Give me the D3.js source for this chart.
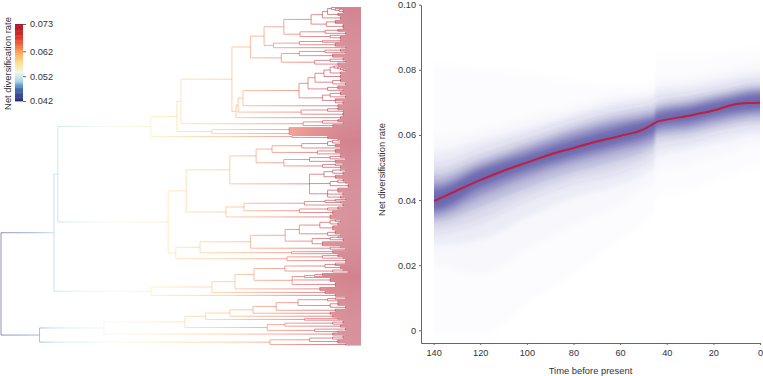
<!DOCTYPE html>
<html>
<head>
<meta charset="utf-8">
<script src="https://cdn.jsdelivr.net/npm/d3@7"></script>
<style>
  html, body { margin: 0; background: #fff; }
  svg { display: block; }
  text { font-family: "Liberation Sans", Arial, sans-serif; fill: #333; }
  .axis path, .axis line { stroke: #666; }
  .axis text { font-size: 9.2px; fill: #333; }
</style>
</head>
<body>
<svg width="763" height="376"></svg>
<script>
// tick labels
var rateTicks = [0, 0.02, 0.04, 0.06, 0.08, 0.10];
var timeTicks = [140, 120, 100, 80, 60, 40, 20, 0];
var legendTicks = [0.042, 0.052, 0.062, 0.073];

// colour ramp of the legend
var rampRates = [0.042, 0.047, 0.050, 0.0535, 0.057, 0.061, 0.064, 0.068, 0.073];
var rampColors = ["#2d2a7a", "#4575b4", "#abd9e9", "#f2f6e6", "#fee090", "#fdae61", "#f46d43", "#d73027", "#a50f26"];

// rate along the tree, by age
var treeAges = [140, 118, 100, 82, 70, 50, 30, 18, 8, 0];
var treeRates = [0.042, 0.050, 0.053, 0.056, 0.0585, 0.0615, 0.0655, 0.0695, 0.0725, 0.073];

// right panel, median curve
var curveAges = [139.8, 129.5, 120, 110, 100, 90, 80, 70, 60, 50, 47, 44, 40, 30, 20, 10, 5, 0];
var curveRates = [0.0397, 0.0431, 0.0461, 0.049, 0.0515, 0.054, 0.056, 0.058, 0.0597, 0.0617, 0.0629, 0.0641, 0.0647, 0.066, 0.0675, 0.0695, 0.0698, 0.0699];

// right panel, density bands (outermost first)
var bandAges = [139.8, 120, 100, 80, 60, 48, 45.5, 44.5, 30, 15, 0];
var bandUpper = [
  [0.082, 0.0805, 0.0793, 0.0765, 0.0755, 0.0755, 0.0757, 0.0845, 0.0845, 0.0855, 0.0865],
  [0.0594, 0.0615, 0.0655, 0.0692, 0.0725, 0.073, 0.0735, 0.077, 0.078, 0.08, 0.082],
  [0.055, 0.0585, 0.0624, 0.0667, 0.0707, 0.072, 0.0725, 0.0745, 0.0755, 0.0775, 0.0793],
  [0.051, 0.0554, 0.06, 0.0646, 0.0683, 0.0698, 0.0703, 0.0713, 0.0729, 0.075, 0.0769],
  [0.0477, 0.0526, 0.0575, 0.0624, 0.0661, 0.0677, 0.068, 0.0689, 0.071, 0.0732, 0.075],
  [0.0452, 0.0508, 0.0557, 0.0606, 0.0643, 0.0658, 0.0663, 0.0677, 0.0695, 0.072, 0.0738],
  [0.0431, 0.0492, 0.0538, 0.0584, 0.0624, 0.0646, 0.065, 0.0661, 0.0683, 0.0707, 0.0726]
];
var bandLower = [
  [-0.002, -0.002, 0.008, 0.0173, 0.028, 0.034, 0.036, 0.041, 0.043, 0.047, 0.05],
  [0.0197, 0.017, 0.0247, 0.0323, 0.0385, 0.044, 0.045, 0.0486, 0.0508, 0.0538, 0.0569],
  [0.026, 0.0277, 0.0345, 0.0406, 0.0446, 0.0486, 0.05, 0.0529, 0.0554, 0.0578, 0.06],
  [0.03, 0.0333, 0.04, 0.0452, 0.0486, 0.0523, 0.0535, 0.0563, 0.0581, 0.0609, 0.0624],
  [0.0333, 0.0379, 0.0437, 0.0486, 0.0523, 0.0554, 0.0565, 0.0591, 0.0606, 0.063, 0.0646],
  [0.0354, 0.0413, 0.0471, 0.0517, 0.0554, 0.0578, 0.0588, 0.0609, 0.0624, 0.0649, 0.0664],
  [0.0372, 0.044, 0.0495, 0.0538, 0.0575, 0.06, 0.0608, 0.0627, 0.0643, 0.0667, 0.068]
];
var bandAlpha = [0.01, 0.02, 0.05, 0.1, 0.2, 0.32, 0.45];

// phylogeny: [age of node, children...], a number means that many tips on the node
var cladeTop = [43,
  [37.7,
    [30,
      [19.4,
        [15, [13, [11.5, 1, [10, 1, [8.5, 1, [7, 2, 1]]]], [9, 3]], [8, 4]],
        [13.5, [10, 4], [7, 5]]],
      [23.7, [14, [9, 3], [6, 3]], [12, 1, [8, 4]]]],
    [34, [24, [15, [8, 2], 1], [10, 4]], [6, 2]]],
  [31, [24, [14, [8, 3], [6, 2]], [11, 4]], [18, [12, [7, 3], [6, 2]], [9, 3]]]
];
var cladeSecond = [48.6,
  [47.8,
    [45.9,
      [24.1,
        [20.6,
          [17.9,
            [14.4, [12, [10.5, 1, [9, 1, [8, 1, [7, 1, [6, 2]]]]], [8, 3]], [8, 4]],
            [11, [8, 4], [6, 3]]],
          [13, [9, 4], [7, 2]]],
        [15, [12, [8, 4], [6, 3]], [10, 3, [7, 3]]]],
      [9, 3]],
    [23.3, [13, [9, 3], [7, 2]], [11, [7, 4]]]],
  [8, 3]
];
var cladeThird = [81.7,
  [71.6,
    [70,
      [50.2, cladeTop, cladeSecond],
      [43, [22.5, [15, [9, 3], [7, 2]], [11, 3]]]],
    [58, [28, 5], [28, 3]]],
  [55.4, [26.8, [3, 1], [13, 3]]]
];
var cladeFourth = [68,
  [51,
    [40.8,
      [34.6,
        [23, [13, [11, [9, 1, [8, 2]], [8, 2]], [10, 3]], [10, [8, 2]]],
        [17, [10, 4], [8, 2]]],
      [30, [20, [12, [8, 3], [6, 2]], [10, 3]], [15, [10, [7, 2], 1], [8, 3]]]],
    [20,
      [14.4, [11, [8, 1, [6, 2]], [7, 3]], [10, 4]],
      [12, [9, [7, 3], [6, 2]], [8, [5, 4]]],
      [13, [9, 5], [7, 3], [8, 3]]]],
  [52.5,
    [45.5,
      [22, [14, [10, [6, 2], 1], [8, 2]], [11, [7, 3]]],
      [24, [13, [9, 3], [7, 1]], [11, 4]]],
    [12, 5]]
];
var cladeFifth = [72,
  [62.6,
    [43,
      [29.5,
        [24, [16, [12, [10, 1, [8, 2]], [9, 3]], [11, 5]], [13, [10, 4], [8, 2]]],
        [19, [12, [9, 2], [7, 3]], [15, 5]]],
      [12, [8, 2], [6, 2]]],
    [27, [11, 3], 1]],
  [28.8, [15, [9, 3], [7, 2]], [11, [6, 3]]]
];
var cladeSixth = [81.7,
  [58,
    [49,
      [41.6,
        [29.6, [14, [10, [6, 2], 2], [8, 3]], [11, [7, 2], [5, 2]]],
        [26.8, [22, [18, [15, 3], 1], 1], [12, 4], [10, 5]]],
      [16, 4]],
    [14, 2, 1]],
  [10, 3]
];
var cladeSeventh = [125,
  [100,
    [68.5,
      [60.5,
        [51,
          [42,
            [33,
              [24.5, [13, [10, [6, 2], 1], [9, 2]], [12, [9, 4], [6, 3]]],
              [10, 3]],
            [12, 3]],
          [11, 3]],
        [22, [9, 2], 1]],
      [36.5,
        [29.6, [11, [7, 3], 1], [8, 3]],
        [18, [11, [6, 3]], [9, 2]]]],
    [11, 3]],
  [35.4, [20, [11, [7, 3], 1], [9, 4]], [6, 2]]
];
var phylogeny = [140,
  [119.4,
    [117.9, cladeThird, [75, cladeFourth, cladeFifth]],
    cladeSixth],
  cladeSeventh
];

var svg = d3.select("svg");

// ramp scale used by legend and tree
var rateColor = d3.scaleLinear().domain(rampRates).range(rampColors);
var treeRate = d3.scaleLinear().domain(treeAges).range(treeRates);

// ---- tree ----
var treeX = d3.scaleLinear().domain([140, 0]).range([1, 361]);
var treeY = d3.scaleLinear().domain([0, 1]).range([7, 345.5]);

var root = d3.hierarchy(phylogeny, function(d) {
  return d.slice(1).flatMap(function(c) {
    return typeof c === "number" ? d3.range(c).map(function() { return [0]; }) : [c];
  });
});
d3.cluster().size([1, 1]).separation(function() { return 1; })(root);

var p = d3.path();
root.descendants().forEach(function(n) {
  if (n.parent) {
    p.moveTo(treeX(n.parent.data[0]), treeY(n.x));
    p.lineTo(treeX(n.data[0]), treeY(n.x));
  }
  if (n.children) {
    p.moveTo(treeX(n.data[0]), treeY(n.children[0].x));
    p.lineTo(treeX(n.data[0]), treeY(n.children[n.children.length - 1].x));
  }
});

var defs = svg.append("defs");
var grad = defs.append("linearGradient")
    .attr("id", "treeGrad")
    .attr("gradientUnits", "userSpaceOnUse")
    .attr("x1", treeX(140)).attr("x2", treeX(0))
    .attr("y1", 0).attr("y2", 0);
// stops have to go up in offset, so oldest age first
d3.range(140, -1, -5).forEach(function(a) {
  grad.append("stop")
      .attr("offset", 1 - a / 140)
      .attr("stop-color", rateColor(treeRate(a)));
});

svg.append("path")
    .attr("d", p.toString())
    .attr("fill", "none")
    .attr("stroke", "url(#treeGrad)")
    .attr("stroke-width", 0.9)
    .attr("stroke-opacity", 0.58);

// ---- legend ----
var legendY = d3.scaleLinear().domain([0.042, 0.073]).range([101, 24]);
var legendSteps = d3.range(0.042, 0.073, 0.0005);
svg.append("g").selectAll("rect")
    .data(legendSteps)
    .enter().append("rect")
      .attr("x", 15)
      .attr("width", 8)
      .attr("y", function(d) { return legendY(d + 0.0005); })
      .attr("height", function(d) { return legendY(d) - legendY(d + 0.0005) + 0.4; })
      .attr("fill", function(d) { return rateColor(d); });

svg.append("g")
    .attr("class", "axis")
    .attr("transform", "translate(23,0)")
    .call(d3.axisRight(legendY).tickValues(legendTicks).tickSize(3).tickPadding(4).tickFormat(d3.format(".3f")))
    .call(function(g) { g.select(".domain").remove(); });

svg.append("text")
    .attr("transform", "translate(11,63.5) rotate(-90)")
    .attr("text-anchor", "middle")
    .attr("font-size", 9.4)
    .text("Net diversification rate");

// ---- right panel ----
var x = d3.scaleLinear().domain([145.4, 0]).range([421, 760]);
var y = d3.scaleLinear().domain([-0.0039, 0.10]).range([343, 4.7]);

defs.append("clipPath").attr("id", "panelClip")
  .append("rect")
    .attr("x", x(139.8))
    .attr("y", 0)
    .attr("width", x(0) - x(139.8))
    .attr("height", 343);
var blur = defs.append("filter")
    .attr("id", "soft")
    .attr("filterUnits", "userSpaceOnUse")
    .attr("x", 400).attr("y", 0).attr("width", 363).attr("height", 376);
blur.append("feGaussianBlur").attr("stdDeviation", "1.2 3.2");

var bandArea = d3.area()
    .x(function(d) { return x(d.age); })
    .y0(function(d) { return y(d.low); })
    .y1(function(d) { return y(d.high); })
    .curve(d3.curveMonotoneX);

svg.append("g")
    .attr("clip-path", "url(#panelClip)")
  .append("g")
    .attr("filter", "url(#soft)")
  .selectAll("path")
    .data(bandAlpha)
    .enter().append("path")
      .attr("fill", "#3a3695")
      .attr("fill-opacity", function(d) { return d; })
      .attr("d", function(d, i) {
        // pad the ends so the blur does not fade at the clip edge
        var rows = bandAges.map(function(a, j) {
          return {age: a, low: bandLower[i][j], high: bandUpper[i][j]};
        });
        rows.unshift({age: 146, low: rows[0].low, high: rows[0].high});
        rows.push({age: -6, low: rows[rows.length - 1].low, high: rows[rows.length - 1].high});
        return bandArea(rows);
      });

var curve = d3.line()
    .x(function(d, i) { return x(curveAges[i]); })
    .y(function(d) { return y(d); })
    .curve(d3.curveMonotoneX);

svg.append("path")
    .attr("d", curve(curveRates))
    .attr("fill", "none")
    .attr("stroke", "#c01f3f")
    .attr("stroke-width", 2);

svg.append("g")
    .attr("class", "axis")
    .attr("transform", "translate(421,0)")
    .call(d3.axisLeft(y).tickValues(rateTicks).tickSize(2).tickPadding(3).tickSizeOuter(0)
      .tickFormat(function(d) { return d === 0 ? "0" : d3.format(".2f")(d); }));

svg.append("g")
    .attr("class", "axis")
    .attr("transform", "translate(0,343)")
    .call(d3.axisBottom(x).tickValues(timeTicks).tickSize(2).tickPadding(4).tickSizeOuter(0));

svg.append("text")
    .attr("transform", "translate(385,169.5) rotate(-90)")
    .attr("text-anchor", "middle")
    .attr("font-size", 9.4)
    .text("Net diversification rate");

svg.append("text")
    .attr("x", 590.5)
    .attr("y", 374)
    .attr("text-anchor", "middle")
    .attr("font-size", 9.4)
    .text("Time before present");
</script>
</body>
</html>
